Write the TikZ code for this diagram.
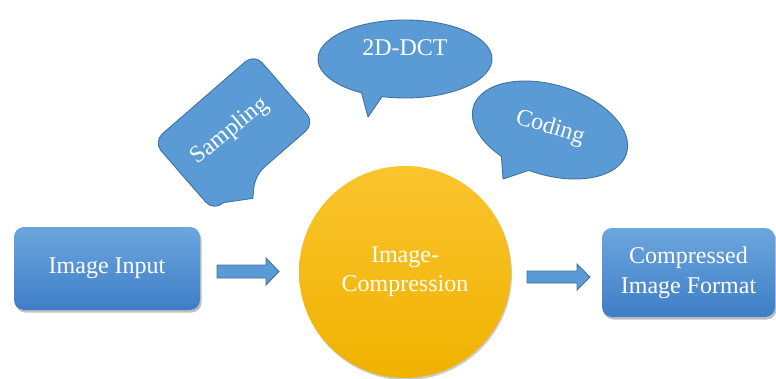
\documentclass[tikz,border=0pt]{standalone}
\usepackage{fontspec}
\setmainfont{Liberation Serif}
\usetikzlibrary{shadows}
\definecolor{cfill}{RGB}{91,155,213}
\definecolor{cdraw}{RGB}{65,113,156}
\definecolor{boxtop}{RGB}{108,166,222}
\definecolor{boxbot}{RGB}{62,126,198}
\definecolor{goldtop}{RGB}{250,196,46}
\definecolor{goldbot}{RGB}{240,178,0}
\begin{document}
\begin{tikzpicture}[x=1pt,y=1pt,
  lbl/.style={text=white, font=\fontsize{24}{30}\selectfont, align=center},
  bluebox/.style={rectangle, rounded corners=10pt, top color=boxtop, bottom color=boxbot,
    draw=none, drop shadow={shadow xshift=1.5pt, shadow yshift=-2.5pt, fill=black, opacity=0.25},
    text=white, font=\fontsize{24}{30}\selectfont, align=center},
  callout/.style={fill=cfill, draw=cdraw, line width=0.9pt, line join=round},
  blockarrow/.style={fill=cfill, draw=cdraw, line width=0.9pt}]
\useasboundingbox (0,0) rectangle (776,378);
\fill[white] (0,0) rectangle (776,378);

% boxes and circle
\node[bluebox, minimum width=186pt, minimum height=83pt] (in) at (107,109.5) {Image Input};
\node[bluebox, minimum width=173pt, minimum height=89pt] (out) at (688.5,105.5) {Compressed\\Image Format};
\node[circle, minimum size=212pt, inner sep=0pt, top color=goldtop, bottom color=goldbot, draw=none,
  drop shadow={shadow xshift=1pt, shadow yshift=-2pt, fill=black, opacity=0.2},
  text=white, font=\fontsize{24}{29}\selectfont, align=center] (comp) at (405,106) {Image-\\Compression};

% block arrows
\coordinate (a1) at (217,106.5);
\draw[blockarrow] (a1) ++(0,-6.5) -- ++(49,0) -- ++(0,-7) -- ++(13,13.5) -- ++(-13,13.5) -- ++(0,-7) -- ++(-49,0) -- cycle;
\coordinate (a2) at (527,101);
\draw[blockarrow] (a2) ++(0,-6) -- ++(50,0) -- ++(0,-7) -- ++(13,13) -- ++(-13,13) -- ++(0,-7) -- ++(-50,0) -- cycle;

% 2D-DCT callout
\draw[callout] ([shift={(405,319)}]254.7:87pt and 39pt) arc[start angle=254.7, end angle=600, x radius=87pt, y radius=39pt] -- (368,261) -- cycle;
\node[lbl] (dct) at (405,330) {2D-DCT};

% Coding callout
\begin{scope}[shift={(550,248)}, rotate=-17]
\draw[callout] (264:80pt and 45pt) arc[start angle=264, end angle=601, x radius=80pt, y radius=45pt] -- (-30.6,-60.6) -- cycle;
\end{scope}
\node[lbl, rotate=-17] (cod) at (550,250) {Coding};

% Sampling callout
\begin{scope}[shift={(234,245.5)}, rotate=41]
\draw[callout, rounded corners=12pt] (-67,0) -- (-67,46) -- (67,46) -- (67,-46) -- (-12,-46)
  [sharp corners] -- (-29,-62) -- (-54,-46) [rounded corners=12pt] -- (-67,-46) -- cycle;
\end{scope}
\node[lbl, rotate=39] (samp) at (230,247) {Sampling};
\end{tikzpicture}
\end{document}
